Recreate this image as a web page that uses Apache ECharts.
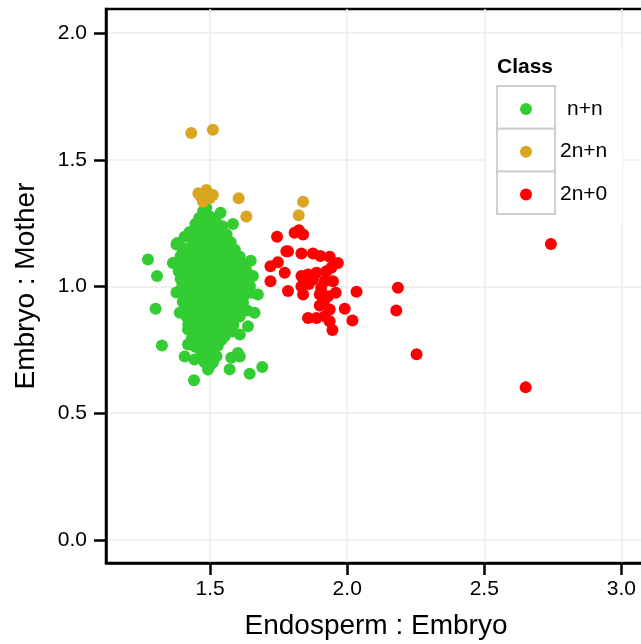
<!DOCTYPE html>
<html>
<head>
<meta charset="utf-8">
<script src="https://cdn.jsdelivr.net/npm/echarts@6/dist/echarts.min.js"></script>
<style>html,body{margin:0;padding:0;background:#fff;}#c{width:641px;height:644px;}</style>
</head>
<body>
<div id="c"></div>
<script>
const classNames = ['n+n', '2n+n', '2n+0'];
const classColors = ['#33cc33', '#daa520', '#ff0000'];
const xTicks = [1.5, 2.0, 2.5, 3.0];
const yTicks = [0.0, 0.5, 1.0, 1.5, 2.0];

const greenPoints = [
  [1.474,1.297],[1.486,1.310],[1.538,1.291],[1.460,1.270],[1.500,1.275],[1.520,1.262],
  [1.446,1.247],[1.583,1.247],[1.478,1.245],[1.505,1.240],[1.545,1.238],
  [1.425,1.215],[1.455,1.220],[1.482,1.212],[1.510,1.218],[1.535,1.210],[1.560,1.205],
  [1.407,1.196],[1.380,1.172],[1.438,1.185],[1.465,1.190],[1.492,1.182],[1.520,1.188],[1.548,1.180],[1.575,1.175],
  [1.400,1.150],[1.428,1.155],[1.455,1.148],[1.482,1.158],[1.510,1.150],[1.538,1.155],[1.565,1.148],[1.590,1.145],
  [1.392,1.120],[1.418,1.125],[1.446,1.118],[1.473,1.128],[1.500,1.120],[1.527,1.125],[1.555,1.118],[1.582,1.122],[1.608,1.117],
  [1.368,1.093],[1.395,1.090],[1.422,1.095],[1.450,1.088],[1.478,1.097],[1.505,1.090],[1.532,1.095],[1.560,1.088],[1.588,1.092],[1.615,1.085],[1.648,1.102],
  [1.385,1.060],[1.412,1.065],[1.440,1.058],[1.468,1.066],[1.495,1.060],[1.522,1.064],[1.550,1.058],[1.578,1.062],[1.605,1.058],[1.632,1.062],[1.656,1.041],
  [1.392,1.030],[1.420,1.035],[1.448,1.028],[1.475,1.036],[1.502,1.030],[1.530,1.034],[1.558,1.028],[1.585,1.032],[1.612,1.026],[1.638,1.030],
  [1.377,0.976],[1.398,1.000],[1.425,1.005],[1.452,0.998],[1.480,1.006],[1.508,1.000],[1.535,1.004],[1.562,0.998],[1.590,1.004],[1.618,0.998],[1.645,1.002],
  [1.405,0.970],[1.432,0.975],[1.460,0.968],[1.488,0.976],[1.515,0.970],[1.542,0.974],[1.570,0.968],[1.598,0.972],[1.625,0.966],[1.674,0.968],[1.650,0.975],
  [1.400,0.940],[1.428,0.945],[1.455,0.938],[1.482,0.946],[1.510,0.940],[1.538,0.944],[1.565,0.938],[1.592,0.942],[1.620,0.936],
  [1.389,0.896],[1.408,0.912],[1.435,0.916],[1.462,0.908],[1.490,0.916],[1.518,0.910],[1.545,0.914],[1.572,0.908],[1.600,0.912],[1.662,0.896],[1.635,0.905],
  [1.415,0.880],[1.442,0.885],[1.470,0.878],[1.498,0.886],[1.525,0.880],[1.552,0.884],[1.580,0.878],[1.608,0.882],
  [1.420,0.850],[1.448,0.855],[1.475,0.848],[1.502,0.856],[1.530,0.850],[1.558,0.854],[1.585,0.848],[1.638,0.843],
  [1.419,0.830],[1.445,0.822],[1.472,0.826],[1.500,0.820],[1.528,0.826],[1.555,0.818],[1.608,0.811],[1.580,0.822],
  [1.432,0.792],[1.460,0.796],[1.488,0.790],[1.515,0.796],[1.542,0.790],[1.553,0.804],
  [1.419,0.771],[1.445,0.762],[1.472,0.766],[1.500,0.760],[1.528,0.766],[1.601,0.738],
  [1.407,0.724],[1.443,0.712],[1.468,0.735],[1.495,0.730],[1.523,0.725],[1.577,0.719],
  [1.492,0.672],[1.498,0.686],[1.441,0.630],[1.571,0.673],[1.644,0.656],[1.690,0.682],[1.608,0.724],[1.510,0.700],[1.480,0.700],
  [1.273,1.107],[1.306,1.041],[1.301,0.912],[1.324,0.767],[1.364,1.093],[1.377,1.166]
];

const goldPoints = [
  [1.431,1.606],[1.510,1.619],[1.457,1.368],[1.486,1.381],[1.510,1.361],[1.474,1.334],
  [1.498,1.348],[1.466,1.355],[1.604,1.348],[1.632,1.276],[1.839,1.334],[1.823,1.281]
];

const redPoints = [
  [1.744,1.196],[1.808,1.212],[1.824,1.222],[1.839,1.205],[1.784,1.139],[1.833,1.130],
  [1.875,1.130],[1.902,1.120],[1.936,1.117],[1.966,1.093],[1.720,1.080],[1.747,1.096],
  [1.772,1.054],[1.720,1.021],[1.784,0.982],[1.833,1.041],[1.857,1.047],[1.888,1.054],
  [1.924,1.060],[1.942,1.074],[1.875,1.028],[1.918,1.021],[1.948,1.021],[1.833,1.001],
  [1.839,0.968],[1.900,0.968],[1.930,0.962],[1.958,0.975],[2.034,0.979],[1.900,0.925],
  [1.936,0.909],[1.991,0.912],[1.857,0.876],[1.888,0.876],[1.918,0.883],[1.936,0.863],
  [2.019,0.866],[1.946,0.828],[2.185,0.995],[2.179,0.905],[2.253,0.733],[2.743,1.168],
  [2.651,0.602],[1.778,1.139],[1.860,1.010],[1.905,0.995],[1.915,0.940]
];

const seriesData = [greenPoints, goldPoints, redPoints];
const FONT = 'Liberation Sans, Arial, Helvetica, sans-serif';

const chart = echarts.init(document.getElementById('c'), null, {renderer: 'canvas'});
chart.setOption({
  animation: false,
  backgroundColor: '#ffffff',
  title: {
    text: 'Class', left: 497, top: 57, padding: 0,
    textStyle: {fontFamily: FONT, fontSize: 21, fontWeight: 'bold', color: '#000'}
  },
  legend: {
    orient: 'vertical', left: 520, top: 98.5, padding: 0,
    itemWidth: 12, itemHeight: 12, itemGap: 21.7, icon: 'circle',
    selectedMode: false, z: 6,
    data: classNames,
    formatter: function (n) { return n === 'n+n' ? '{b|' + n + '}' : '{a|' + n + '}'; },
    textStyle: {
      fontFamily: FONT, fontSize: 21, color: '#000',
      rich: {
        a: {fontFamily: FONT, fontSize: 21, color: '#000', padding: [0, 0, 0, 23]},
        b: {fontFamily: FONT, fontSize: 21, color: '#000', padding: [0, 0, 0, 30]}
      }
    }
  },
  graphic: [
    {type: 'rect', z: 3, silent: true, shape: {x: 486, y: 46, width: 136, height: 180}, style: {fill: '#ffffff'}},
    {type: 'rect', z: 4, silent: true, shape: {x: 497, y: 86, width: 58, height: 42.7}, style: {fill: '#ffffff', stroke: '#cfcfcf', lineWidth: 2}},
    {type: 'rect', z: 4, silent: true, shape: {x: 497, y: 128.7, width: 58, height: 42.7}, style: {fill: '#ffffff', stroke: '#cfcfcf', lineWidth: 2}},
    {type: 'rect', z: 4, silent: true, shape: {x: 497, y: 171.4, width: 58, height: 42.7}, style: {fill: '#ffffff', stroke: '#cfcfcf', lineWidth: 2}}
  ],
  grid: {
    left: 106, right: -5, top: 9, bottom: 81,
    containLabel: false, outerBoundsMode: 'none',
    show: true, borderColor: '#000', borderWidth: 2.5, backgroundColor: 'transparent'
  },
  xAxis: {
    type: 'value', min: 1.12, max: 3.09,
    name: 'Endosperm : Embryo', nameLocation: 'middle', nameGap: 49,
    nameTextStyle: {fontFamily: FONT, fontSize: 28, color: '#000'},
    axisLine: {show: true, onZero: false, lineStyle: {color: '#000', width: 2.5}},
    axisTick: {show: true, length: 12, customValues: xTicks, lineStyle: {color: '#000', width: 2.5}},
    axisLabel: {customValues: xTicks, margin: 16, fontFamily: FONT, fontSize: 21, color: '#000',
      formatter: function (v) { return v.toFixed(1); }},
    splitLine: {show: true, lineStyle: {color: '#ebebeb', width: 1.5}}
  },
  yAxis: {
    type: 'value', min: -0.091, max: 2.095,
    name: 'Embryo : Mother', nameLocation: 'middle', nameGap: 66, nameRotate: 90,
    nameTextStyle: {fontFamily: FONT, fontSize: 28, color: '#000'},
    axisLine: {show: true, onZero: false, lineStyle: {color: '#000', width: 2.5}},
    axisTick: {show: true, length: 12, customValues: yTicks, lineStyle: {color: '#000', width: 2.5}},
    axisLabel: {customValues: yTicks, margin: 19, fontFamily: FONT, fontSize: 21, color: '#000',
      formatter: function (v) { return v.toFixed(1); }},
    splitLine: {show: true, lineStyle: {color: '#ebebeb', width: 1.5}}
  },
  series: classNames.map(function (name, i) {
    return {
      name: name, type: 'scatter', data: seriesData[i], symbolSize: 12,
      itemStyle: {color: classColors[i], opacity: 1},
      emphasis: {disabled: true}, z: 2
    };
  })
});
</script>
</body>
</html>
